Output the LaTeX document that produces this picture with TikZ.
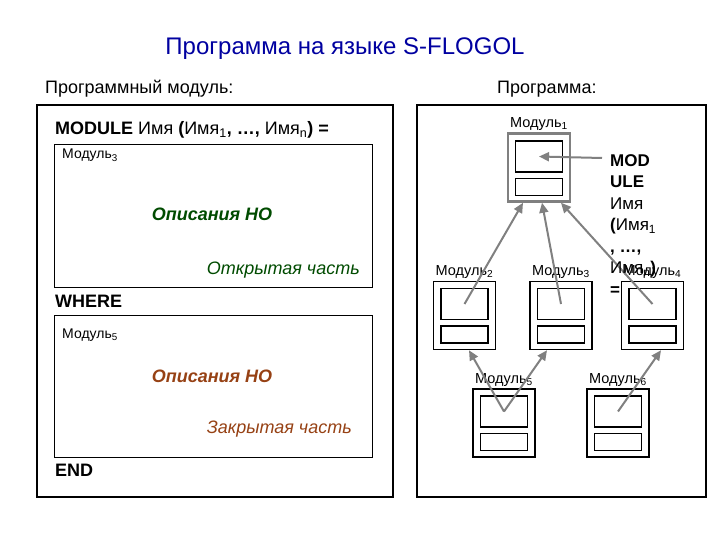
\documentclass[tikz,border=0pt]{standalone}
\usepackage{fontspec}
\setmainfont{Liberation Sans}
\usetikzlibrary{arrows.meta,positioning,calc}
\definecolor{titleblue}{RGB}{0,0,160}
\definecolor{opengreen}{RGB}{0,75,0}
\definecolor{closedbrown}{RGB}{150,65,20}
\definecolor{linkgray}{RGB}{128,128,128}

\begin{document}
\begin{tikzpicture}[x=1pt,y=-1pt,
  big/.style={font=\fontsize{24}{28}\selectfont},
  mid/.style={font=\fontsize{18}{21}\selectfont},
  small/.style={font=\fontsize{14}{16}\selectfont},
  modbox/.style={draw,line width=1.5pt,minimum width=62pt,minimum height=68pt,inner sep=0pt},
  topbox/.style={draw,line width=1.5pt,minimum width=47pt,minimum height=31pt,inner sep=0pt},
  botbox/.style={draw,line width=1.5pt,minimum width=47pt,minimum height=17pt,inner sep=0pt},
  modlabel/.style={font=\fontsize{14.5}{17}\selectfont,inner sep=1pt},
  link/.style={draw=linkgray,line width=2pt,-{Triangle[length=10pt,width=9pt]}}]
\useasboundingbox (0,0) rectangle (720,540);
% headings
\node[big,text=titleblue,anchor=base] (title) at (345,55) {Программа на языке S-FLOGOL};
\node[mid,anchor=base west,inner sep=0pt] (lefthead) at (45,94) {Программный модуль:};
\node[mid,anchor=base west,inner sep=0pt] (righthead) at (497,94) {Программа:};
% left panel
\draw[line width=2pt] (37,105) rectangle (393,497);
\draw[line width=1pt] (54,145) rectangle (372,287);
\draw[line width=1pt] (54,315) rectangle (372,457);
\node[mid,anchor=base west,inner sep=0pt] (module) at (55,135) {\textbf{MODULE} Имя \textbf{(}Имя\textsubscript{1}\textbf{, …,} Имя\textsubscript{n}\textbf{) =}};
\node[small,anchor=base west,inner sep=0pt] (open3) at (62,159) {Модуль\textsubscript{3}};
\node[mid,anchor=base,text=opengreen,inner sep=0pt] (opendesc) at (212,221) {\textbf{\itshape Описания НО}};
\node[mid,anchor=base east,text=opengreen,inner sep=0pt] (openpart) at (360,274) {\itshape Открытая часть};
\node[mid,anchor=base west,inner sep=0pt] (where) at (55,307) {\textbf{WHERE}};
\node[small,anchor=base west,inner sep=0pt] (closed5) at (62,338) {Модуль\textsubscript{5}};
\node[mid,anchor=base,text=closedbrown,inner sep=0pt] (closeddesc) at (212,382) {\textbf{\itshape Описания НО}};
\node[mid,anchor=base east,text=closedbrown,inner sep=0pt] (closedpart) at (352,433) {\itshape Закрытая часть};
\node[mid,anchor=base west,inner sep=0pt] (end) at (55,476) {\textbf{END}};
% right panel
\draw[line width=2pt] (417,105) rectangle (706,497);
\node[modbox,draw=linkgray,line width=2.5pt] (m1) at (539,167.5) {};
\node[topbox,below=8pt of m1.north] (m1t) {};
\node[botbox,below=5pt of m1t] (m1b) {};
\node[modbox] (m2) at (464.5,315.5) {};
\node[topbox,below=7pt of m2.north] (m2t) {};
\node[botbox,below=5pt of m2t] (m2b) {};
\node[modbox] (m3) at (561,315.5) {};
\node[topbox,below=7pt of m3.north] (m3t) {};
\node[botbox,below=5pt of m3t] (m3b) {};
\node[modbox] (m4) at (652.5,315.5) {};
\node[topbox,below=7pt of m4.north] (m4t) {};
\node[botbox,below=5pt of m4t] (m4b) {};
\node[modbox] (m5) at (504,423) {};
\node[topbox,below=7pt of m5.north] (m5t) {};
\node[botbox,below=5pt of m5t] (m5b) {};
\node[modbox] (m6) at (618,423) {};
\node[topbox,below=7pt of m6.north] (m6t) {};
\node[botbox,below=5pt of m6t] (m6b) {};
\node[modlabel,above=1pt of m1] (l1) {Модуль\textsubscript{1}};
\node[modlabel,above=1pt of m2] (l2) {Модуль\textsubscript{2}};
\node[modlabel,above=1pt of m3] (l3) {Модуль\textsubscript{3}};
\node[modlabel,above=1pt of m4] (l4) {Модуль\textsubscript{4}};
\node[modlabel,above=1pt of m5] (l5) {Модуль\textsubscript{5}};
\node[modlabel,above=1pt of m6] (l6) {Модуль\textsubscript{6}};
\draw[link] (m2t.center) -- ($(m1.south)+(-16,0)$);
\draw[link] (m3t.center) -- ($(m1.south)+(3,0)$);
\draw[link] (m4t.center) -- ($(m1.south)+(22,0)$);
\draw[link] (m5t.center) -- ($(m2.south)+(4.5,0)$);
\draw[link] (m5t.center) -- ($(m3.south)+(-14,0)$);
\draw[link] (m6t.center) -- ($(m4.south)+(8.5,0)$);
\node[anchor=north west,align=left,inner sep=0pt,font=\fontsize{17}{21.5}\selectfont] (header) at (610,154)
  {\textbf{MOD}\\\textbf{ULE}\\Имя\\\textbf{(}Имя\textsubscript{1}\\\textbf{, …,}\\Имя\textsubscript{n}\textbf{)}\\\textbf{=}};
\coordinate (hdr) at (602,158);
\draw[link] (hdr) -- (m1t.center);
\end{tikzpicture}
\end{document}
